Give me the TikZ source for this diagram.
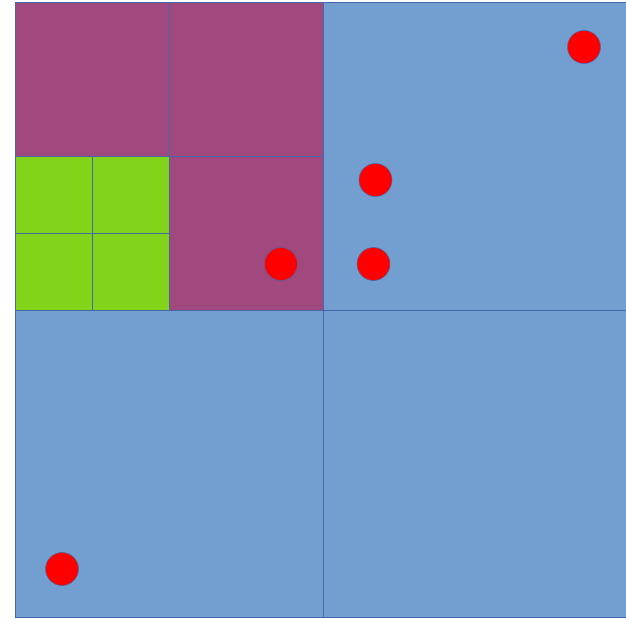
\documentclass[tikz,border=0pt]{standalone}
\definecolor{qblue}{RGB}{114,159,207}
\definecolor{qpurple}{RGB}{161,72,127}
\definecolor{qgreen}{RGB}{129,212,26}
\definecolor{qline}{RGB}{68,104,168}
\tikzset{
  cell/.style={draw=qline,line width=1pt},
  pt/.style={circle,fill=red,draw=qline,line width=0.5pt,minimum size=33pt,inner sep=0pt}
}
\begin{document}
\begin{tikzpicture}[x=1pt,y=-1pt]
\useasboundingbox (0,0) rectangle (626,618);
\begin{scope}
\clip (0,0) rectangle (626,618);
% fills
\fill[qblue] (15.5,3) rectangle (631,617);
\fill[qpurple] (15.5,3) rectangle (323,310);
\fill[qgreen] (15.5,156) rectangle (169,310);
% grid lines
\draw[cell] (15.5,3) rectangle (631,617);
\draw[cell] (323,3) -- (323,617);
\draw[cell] (15.5,310) -- (631,310);
\draw[cell] (169,3) -- (169,310);
\draw[cell] (15.5,156) -- (323,156);
\draw[cell] (92,156) -- (92,310);
\draw[cell] (15.5,233) -- (169,233);
\end{scope}
\node[pt] (p1) at (584,47) {};
\node[pt] (p2) at (375.5,180) {};
\node[pt] (p3) at (373.5,264) {};
\node[pt] (p4) at (281,264) {};
\node[pt] (p5) at (62,569) {};
\end{tikzpicture}
\end{document}
